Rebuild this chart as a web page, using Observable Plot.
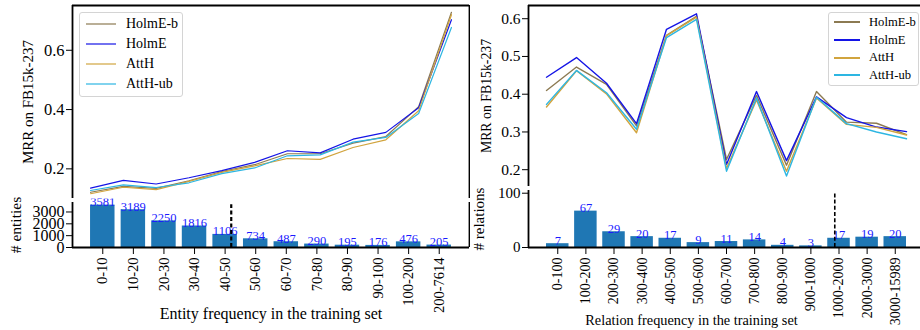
<!DOCTYPE html>
<html>
<head>
<meta charset="utf-8">
<script src="https://cdn.jsdelivr.net/npm/d3@7"></script>
<script src="https://cdn.jsdelivr.net/npm/@observablehq/plot@0.6"></script>
<style>
html, body { margin: 0; padding: 0; background: #fff; overflow: hidden; }
#fig { position: relative; width: 920px; height: 330px; overflow: hidden; background: #fff; font-family: "Liberation Serif", "Times New Roman", serif; }
.legend { position: absolute; background: rgba(255,255,255,0.85); border: 1px solid #d4d4d4; border-radius: 3px; box-sizing: border-box; }
.legend .row { position: absolute; left: 0; height: 0; }
.legend .row svg { position: absolute; overflow: visible; }
.legend .row span { position: absolute; white-space: nowrap; line-height: 1; color: #000; }
</style>
</head>
<body>
<div id="fig"></div>
<script>
// ---------------- data ----------------
const seriesNames = ["HolmE-b", "HolmE", "AttH", "AttH-ub"];
const seriesColors = ["#8c7a52", "#1414e6", "#d1a43e", "#2db6e2"];

const entityBins = ["0-10", "10-20", "20-30", "30-40", "40-50", "50-60", "60-70", "70-80", "80-90", "90-100", "100-200", "200-7614"];
const entityCounts = [3581, 3189, 2250, 1816, 1106, 734, 487, 290, 195, 176, 476, 205];
const entityHolmEb = [0.121, 0.141, 0.134, 0.160, 0.191, 0.214, 0.251, 0.251, 0.287, 0.309, 0.410, 0.728];
const entityHolmE  = [0.135, 0.161, 0.149, 0.170, 0.194, 0.222, 0.261, 0.254, 0.300, 0.323, 0.406, 0.703];
const entityAttH   = [0.116, 0.138, 0.130, 0.158, 0.188, 0.210, 0.235, 0.232, 0.272, 0.298, 0.396, 0.720];
const entityAttHub = [0.127, 0.146, 0.137, 0.153, 0.184, 0.203, 0.244, 0.247, 0.290, 0.306, 0.387, 0.677];
const entityCut = 4.2;

const relationBins = ["0-100", "100-200", "200-300", "300-400", "400-500", "500-600", "600-700", "700-800", "800-900", "900-1000", "1000-2000", "2000-3000", "3000-15989"];
const relationCounts = [7, 67, 29, 20, 17, 9, 11, 14, 4, 3, 17, 19, 20];
const relationHolmEb = [0.410, 0.472, 0.426, 0.316, 0.556, 0.606, 0.227, 0.397, 0.212, 0.407, 0.326, 0.323, 0.293];
const relationHolmE  = [0.445, 0.497, 0.429, 0.322, 0.572, 0.613, 0.214, 0.407, 0.224, 0.393, 0.338, 0.313, 0.301];
const relationAttH   = [0.366, 0.462, 0.401, 0.298, 0.555, 0.604, 0.203, 0.385, 0.196, 0.390, 0.320, 0.312, 0.292];
const relationAttHub = [0.373, 0.463, 0.404, 0.307, 0.550, 0.598, 0.196, 0.390, 0.183, 0.392, 0.322, 0.300, 0.282];
const relationCut = 9.85;

const yTitle = "MRR on FB15k-237";
const entityTitle = "Entity frequency in the training set";
const relationTitle = "Relation frequency in the training set";

// ---------------- helpers ----------------
const FONT = '"Liberation Serif", "Times New Roman", serif';
const fig = document.getElementById("fig");
const color = {domain: seriesNames, range: seriesColors};
const toLong = (arrs) => seriesNames.flatMap((s, k) => arrs[k].map((v, i) => ({s, i, v})));
const toBars = (bins, counts) => bins.map((b, i) => ({i, bin: b, n: counts[i]}));
function mount(node, left, top) {
  node.style.position = "absolute";
  node.style.left = left + "px";
  node.style.top = top + "px";
  fig.appendChild(node);
}
const SP = {stroke: "black", strokeWidth: 1.8};

function linePlot({data, width, height, mL, mR, mT, mB, xdom, ydom, yticks, tickFont, titleFont, titleDx, sw}) {
  return Plot.plot({
    width, height, marginLeft: mL, marginRight: mR, marginTop: mT, marginBottom: mB,
    x: {domain: xdom, axis: null},
    y: {domain: ydom},
    color,
    style: {fontFamily: FONT, background: "transparent", color: "black"},
    marks: [
      Plot.frame({fill: "white", stroke: null}),
      Plot.line(data, {x: "i", y: "v", z: "s", stroke: "s", strokeWidth: sw}),
      Plot.ruleY([ydom[1]], SP),
      Plot.ruleX([xdom[0]], SP),
      Plot.ruleX([xdom[1]], SP),
      Plot.axisY({ticks: yticks, tickFormat: d => d.toFixed(1), tickSize: 6, tickPadding: 2, fontSize: tickFont, label: null}),
      Plot.text([yTitle], {text: d => d, frameAnchor: "left", rotate: -90, dx: titleDx, textAnchor: "middle", lineAnchor: "middle", fontSize: titleFont})
    ]
  });
}

function barPlot({data, bins, width, height, mL, mR, mT, mB, xdom, ydom, yticks, cut, cutTop, cutW, dash, tickFont, xTickFont, labelFont, ylab, ylabFont, ylabDx, xlab, xlabFont, xlabDx, xlabDy}) {
  return Plot.plot({
    width, height, marginLeft: mL, marginRight: mR, marginTop: mT, marginBottom: mB,
    x: {domain: xdom},
    y: {domain: ydom},
    style: {fontFamily: FONT, background: "transparent", color: "black"},
    marks: [
      Plot.rect(data, {x1: d => d.i - 0.4, x2: d => d.i + 0.4, y1: 0, y2: "n", fill: "#1f77b4"}),
      Plot.text(data, {x: "i", y: "n", text: d => String(d.n), lineAnchor: "bottom", dy: 1, fill: "#1a1aff", fontSize: labelFont}),
      Plot.ruleX([cut], {y1: 0, y2: cutTop, stroke: "black", strokeWidth: cutW, strokeDasharray: dash}),
      Plot.ruleX([xdom[0]], SP),
      Plot.ruleX([xdom[1]], SP),
      Plot.ruleY([0], SP),
      Plot.axisY({ticks: yticks, tickFormat: d => String(d), tickSize: 6, tickPadding: 2, fontSize: tickFont, label: null}),
      Plot.axisX({ticks: data.map(d => d.i), tickFormat: i => bins[i], tickRotate: -90, tickSize: 7, tickPadding: 3, fontSize: xTickFont, label: null}),
      Plot.text([ylab], {text: d => d, frameAnchor: "left", rotate: -90, dx: ylabDx, textAnchor: "middle", lineAnchor: "middle", fontSize: ylabFont}),
      Plot.text([xlab], {text: d => d, frameAnchor: "bottom", dx: xlabDx, dy: xlabDy, textAnchor: "middle", lineAnchor: "middle", fontSize: xlabFont})
    ]
  });
}

function legend({left, top, w, h, rowY, x1, x2, tx, font, lw}) {
  const box = document.createElement("div");
  box.className = "legend";
  Object.assign(box.style, {left: left + "px", top: top + "px", width: w + "px", height: h + "px"});
  seriesNames.forEach((name, k) => {
    const row = document.createElement("div");
    row.className = "row";
    row.style.top = (rowY[k] - top) + "px";
    const s = document.createElementNS("http://www.w3.org/2000/svg", "svg");
    s.setAttribute("width", 1); s.setAttribute("height", 1);
    s.style.left = (x1 - left) + "px"; s.style.top = "0px";
    const ln = document.createElementNS("http://www.w3.org/2000/svg", "line");
    ln.setAttribute("x1", 0); ln.setAttribute("x2", x2 - x1); ln.setAttribute("y1", 0); ln.setAttribute("y2", 0);
    ln.setAttribute("stroke", seriesColors[k]); ln.setAttribute("stroke-width", lw);
    s.appendChild(ln);
    row.appendChild(s);
    const t = document.createElement("span");
    t.textContent = name;
    t.style.left = (tx - left) + "px";
    t.style.fontSize = font + "px";
    t.style.top = (-font * 0.5) + "px";
    row.appendChild(t);
    box.appendChild(row);
  });
  fig.appendChild(box);
}

// ---------------- left panel ----------------
const eBars = toBars(entityBins, entityCounts);
mount(barPlot({
  data: eBars, bins: entityBins, width: 470, height: 140, mL: 72, mR: 1, mT: 12, mB: 83,
  xdom: [-0.99, 11.99], ydom: [0, 3800], yticks: [0, 1000, 2000, 3000],
  cut: entityCut, cutTop: 3600, cutW: 2.2, dash: "4,2.5",
  tickFont: 16, xTickFont: 14.5, labelFont: 12.5,
  ylab: "# entities", ylabFont: 15.5, ylabDx: -56,
  xlab: entityTitle, xlabFont: 16, xlabDx: 0, xlabDy: 66
}), 0, 190);

mount(linePlot({
  data: toLong([entityHolmEb, entityHolmE, entityAttH, entityAttHub]), width: 470, height: 200,
  mL: 72, mR: 1, mT: 5, mB: 2, xdom: [-0.55, 11.55], ydom: [0.1, 0.751], yticks: [0.2, 0.4, 0.6],
  tickFont: 16.5, titleFont: 15, titleDx: -44.5, sw: 1.2
}), 0, 0);

// ---------------- right panel ----------------
const rBars = toBars(relationBins, relationCounts);
mount(barPlot({
  data: rBars, bins: relationBins, width: 460, height: 150, mL: 58, mR: 6, mT: 10, mB: 83,
  xdom: [-1.04, 13.04], ydom: [0, 105], yticks: [0, 100],
  cut: relationCut, cutTop: 100, cutW: 1.6, dash: "4,2.2",
  tickFont: 15, xTickFont: 14, labelFont: 12.5,
  ylab: "# relations", ylabFont: 15, ylabDx: -49,
  xlab: relationTitle, xlabFont: 14.3, xlabDx: -35, xlabDy: 73
}), 470, 180);

mount(linePlot({
  data: toLong([relationHolmEb, relationHolmE, relationAttH, relationAttHub]), width: 460, height: 188,
  mL: 58, mR: 6, mT: 5, mB: 2, xdom: [-0.6, 12.6], ydom: [0.1555, 0.635], yticks: [0.2, 0.3, 0.4, 0.5, 0.6],
  tickFont: 15.5, titleFont: 13.8, titleDx: -41.5, sw: 1.4
}), 470, 0);

// ---------------- legends ----------------
legend({left: 79, top: 12, w: 104, h: 85, rowY: [23, 43, 63, 83], x1: 85, x2: 115, tx: 125, font: 14, lw: 1.2});
legend({left: 828, top: 12, w: 91, h: 74, rowY: [21, 39, 56.5, 74], x1: 833, x2: 859, tx: 868, font: 12.6, lw: 2});
</script>
</body>
</html>
